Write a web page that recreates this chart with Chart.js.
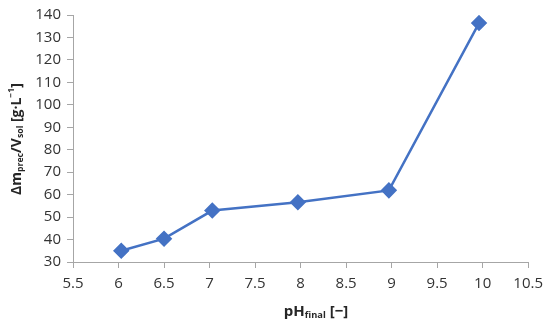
<!DOCTYPE html>
<html>
<head>
<meta charset="utf-8">
<title>pH final chart</title>
<script src="https://cdn.jsdelivr.net/npm/chart.js"></script>
<style>
  * { margin: 0; padding: 0; box-sizing: border-box; }
  body { background: #fff; width: 550px; height: 330px; overflow: hidden; }
  #wrap { width: 550px; height: 330px; }
</style>
</head>
<body>
<div id="wrap"><canvas id="chart" width="550" height="330"></canvas></div>
<script>
const phFinal = [6.03, 6.5, 7.03, 7.97, 8.97, 9.96];
const massPerVol = [35.0, 40.4, 52.9, 56.6, 61.9, 136.4];
const xMin = 5.5, xMax = 10.5, xStep = 0.5;
const yMin = 30, yMax = 140, yStep = 10;

const FONT = '"Open Sans", sans-serif';
const blue = '#4472C4';
const axisGray = '#A6A6A6';

// draws text runs with sub/superscripts, centred on (0,0)
function drawRuns(ctx, runs, size) {
  const parts = runs.map(r => {
    const s = r.k ? size * 0.62 : size;
    ctx.font = 'bold ' + s + 'px ' + FONT;
    return { t: r.t, k: r.k, s, w: ctx.measureText(r.t).width };
  });
  const total = parts.reduce((a, p) => a + p.w, 0);
  let x = -total / 2;
  parts.forEach(p => {
    ctx.font = 'bold ' + p.s + 'px ' + FONT;
    let dy = 0;
    if (p.k === 'sub') dy = size * 0.25;
    if (p.k === 'sup') dy = -size * 0.38;
    ctx.fillText(p.t, x, dy);
    x += p.w;
  });
}

const titles = {
  id: 'titles',
  afterDraw(chart) {
    const ctx = chart.ctx;
    ctx.save();
    ctx.fillStyle = '#262626';
    ctx.textBaseline = 'middle';
    ctx.textAlign = 'left';
    ctx.translate(316, 312);
    drawRuns(ctx, [{ t: 'pH' }, { t: 'final', k: 'sub' }, { t: ' [−]' }], 15);
    ctx.restore();

    ctx.save();
    ctx.fillStyle = '#262626';
    ctx.textBaseline = 'middle';
    ctx.textAlign = 'left';
    ctx.translate(17, 139);
    ctx.rotate(-Math.PI / 2);
    drawRuns(ctx, [{ t: 'Δm' }, { t: 'prec', k: 'sub' }, { t: '/V' }, { t: 'sol', k: 'sub' }, { t: ' [g·L' }, { t: '−1', k: 'sup' }, { t: ']' }], 14);
    ctx.restore();
  }
};

new Chart(document.getElementById('chart'), {
  type: 'scatter',
  data: {
    datasets: [{
      data: phFinal.map((x, i) => ({ x, y: massPerVol[i] })),
      showLine: true,
      borderColor: blue,
      backgroundColor: blue,
      borderWidth: 2.5,
      pointStyle: 'rectRot',
      pointRadius: 6.5,
      pointHoverRadius: 6.5,
      tension: 0
    }]
  },
  options: {
    responsive: false,
    animation: false,
    layout: { padding: { left: 0, right: 20, top: 14, bottom: 0 } },
    plugins: { legend: { display: false }, tooltip: { enabled: false } },
    scales: {
      x: {
        type: 'linear', min: xMin, max: xMax,
        afterFit: s => { s.height = 68; },
        ticks: { stepSize: xStep, color: '#333', font: { family: FONT, size: 15 }, padding: 7, maxRotation: 0,
                 callback: v => String(v) },
        grid: { drawOnChartArea: false, drawTicks: true, tickLength: 6, color: axisGray },
        border: { color: axisGray, width: 1 }
      },
      y: {
        min: yMin, max: yMax,
        afterFit: s => { s.width = 73; },
        ticks: { stepSize: yStep, color: '#333', font: { family: FONT, size: 15 }, padding: 6 },
        grid: { drawOnChartArea: false, drawTicks: true, tickLength: 6, color: axisGray },
        border: { color: axisGray, width: 1 }
      }
    }
  },
  plugins: [titles]
});
</script>
</body>
</html>
